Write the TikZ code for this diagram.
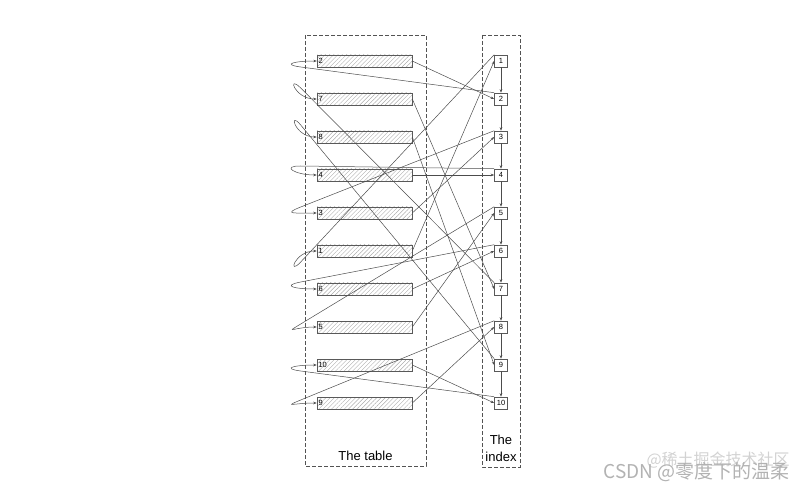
\documentclass[tikz,border=0pt]{standalone}
\usepackage{fontspec}
\setmainfont{Liberation Sans}
\newfontfamily\cjk{Noto Sans CJK SC}
\usetikzlibrary{calc,arrows.meta,patterns.meta}
\tikzset{
  rowbox/.style={draw=gray!70!black, line width=.6pt,
    pattern={Lines[angle=45,distance=3pt,line width=.4pt]}, pattern color=gray!65,
    minimum width=95pt, minimum height=12pt, text width=92pt, align=left,
    inner sep=1.5pt, font=\fontsize{7.5}{7.5}\selectfont},
  idxbox/.style={draw=gray!70!black, line width=.6pt, fill=white,
    minimum width=13pt, minimum height=12pt, inner sep=0pt,
    font=\fontsize{7.5}{7.5}\selectfont},
  ptr/.style={draw=gray!60!black, line width=.5pt, -{Stealth[length=3.5pt,width=2.6pt]}},
  frame/.style={draw=gray!65!black, line width=.7pt, dash pattern=on 4pt off 2pt},
}
\begin{document}
\begin{tikzpicture}[x=1pt,y=-1pt]
\useasboundingbox (0,0) rectangle (811,486);
% frames
\draw[frame] (305,35) rectangle (426,466);
\draw[frame] (482,35) rectangle (520,467);
\node[font=\fontsize{13}{13}\selectfont] (tablelbl) at (365.5,456) {The table};
\node[font=\fontsize{13}{16.5}\selectfont, align=center] (idxlbl) at (501,448.5) {The\\index};
% rows of the table and entries of the index
\foreach \v [count=\r] in {2,7,8,4,3,1,6,5,10,9}
  \node[rowbox] (r\r) at (364.5,{23+38*\r}) {\v};
\foreach \v in {1,...,10}
  \node[idxbox] (i\v) at (501,{23+38*\v}) {\v};
\foreach \a [evaluate=\a as \b using int(\a+1)] in {1,...,9}
  \draw[ptr] (i\a) -- (i\b);
% row -> entry, entry -> row (looped into the left end)
\foreach \r/\v/\d in {1/2/6,2/7/-11,3/9/-12,4/4/-9,5/3/-6,6/1/11,7/6/-7,8/5/-3,9/10/6,10/8/-3} {
  \coordinate (t\r) at ($(r\r.west)+(-16,\d)$);
  \draw[ptr] (r\r.east) -- (i\v.west);
  \draw[ptr] (i\v.north west) -- (t\r)
    .. controls ($(t\r)!-20pt!(i\v.north west)$) and ($(r\r.west)+(-22,0)$) .. (r\r.west);
}
% watermark
\node[text=gray!35, font=\cjk\fontsize{16}{16}\selectfont, anchor=west] (wmb) at (643,460) {@稀土掘金技术社区};
\node[text=gray!60, font=\cjk\fontsize{19}{19}\selectfont, anchor=west] (wma) at (600,472) {CSDN @零度下的温柔};
\end{tikzpicture}
\end{document}
